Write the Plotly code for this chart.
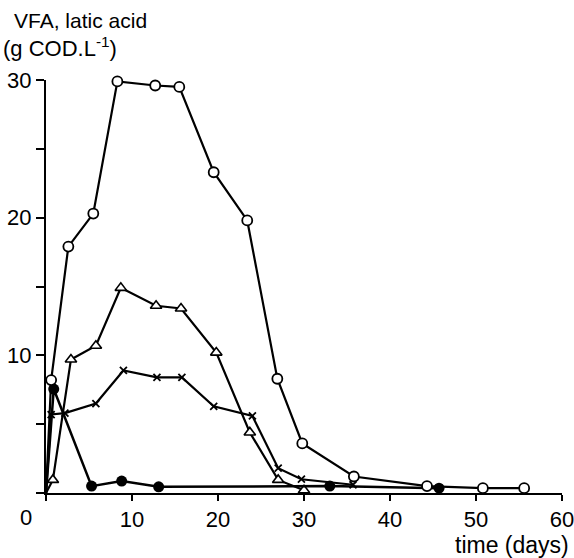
import plotly.graph_objects as go

# Time (days) and concentration (g COD/L) for each measured acid series
days_open = [0, 0.6, 2.6, 5.5, 8.3, 12.7, 15.5, 19.5, 23.4, 26.9, 29.8, 35.8, 44.3, 50.8, 55.6]
vals_open = [0, 8.2, 17.9, 20.3, 29.9, 29.6, 29.5, 23.3, 19.8, 8.3, 3.6, 1.2, 0.5, 0.35, 0.35]

days_tri = [0, 0.8, 2.9, 5.8, 8.7, 12.8, 15.7, 19.8, 23.7, 27.0, 30.0]
vals_tri = [0, 0.95, 9.7, 10.7, 14.9, 13.6, 13.4, 10.2, 4.4, 0.95, 0.2]

days_x = [0, 0.6, 2.2, 5.8, 9.0, 12.9, 15.8, 19.5, 24.0, 27.0, 29.7, 35.7]
vals_x = [0, 5.7, 5.8, 6.5, 8.9, 8.4, 8.4, 6.3, 5.6, 1.8, 1.0, 0.6]

days_dot = [0, 0.9, 5.3, 8.8, 13.1, 33.0, 45.7]
vals_dot = [0, 7.55, 0.5, 0.87, 0.45, 0.5, 0.35]

x_ticks = [0, 10, 20, 30, 40, 50, 60]
y_ticks = [0, 5, 10, 15, 20, 25, 30]
y_ticktext = ["", "", "10", "", "20", "", "30"]

FONT = "Liberation Sans, Arial, sans-serif"
INK = "black"


def sizes(n, s):
    # the shared starting point at the origin carries no symbol
    return [0] + [s] * (n - 1)


fig = go.Figure()

fig.add_trace(go.Scatter(
    x=days_tri, y=vals_tri, mode="lines+markers",
    line=dict(color=INK, width=2.2),
    marker=dict(symbol="triangle-up", size=sizes(len(days_tri), 10),
                color="white", opacity=1, line=dict(width=1.6, color=INK)),
    cliponaxis=False, showlegend=False))

fig.add_trace(go.Scatter(
    x=days_x, y=vals_x, mode="lines+markers",
    line=dict(color=INK, width=2.2),
    marker=dict(symbol="x-thin", size=sizes(len(days_x), 7), opacity=1,
                color=INK, line=dict(width=1.8, color=INK)),
    cliponaxis=False, showlegend=False))

fig.add_trace(go.Scatter(
    x=days_dot, y=vals_dot, mode="lines+markers",
    line=dict(color=INK, width=2.5),
    marker=dict(symbol="circle", size=sizes(len(days_dot), 11), color=INK,
                opacity=1, line=dict(width=0)),
    cliponaxis=False, showlegend=False))

fig.add_trace(go.Scatter(
    x=days_open, y=vals_open, mode="lines+markers",
    line=dict(color=INK, width=2.2),
    marker=dict(symbol="circle", size=sizes(len(days_open), 10), color="white",
                opacity=1, line=dict(width=1.8, color=INK)),
    cliponaxis=False, showlegend=False))

# the origin label sits a little left of the corner, so it is drawn separately
x_ticktext = [""] + [str(v) for v in x_ticks[1:]]

fig.update_xaxes(
    range=[0, 60], tickvals=x_ticks, ticktext=x_ticktext, automargin=False,
    showgrid=False, zeroline=False, showline=True, linecolor=INK, linewidth=2,
    ticks="outside", ticklen=6, tickwidth=1.5, tickcolor=INK,
    ticklabeloverflow="allow",
    tickfont=dict(family=FONT, size=22, color=INK))

fig.update_yaxes(
    range=[0, 30], tickvals=y_ticks, ticktext=y_ticktext, automargin=False,
    showgrid=False, zeroline=False, showline=True, linecolor=INK, linewidth=2,
    ticks="outside", ticklen=8, tickwidth=1.5, tickcolor=INK,
    ticklabeloverflow="allow",
    tickfont=dict(family=FONT, size=22, color=INK))

fig.add_annotation(text=str(x_ticks[0]), x=x_ticks[0], y=0, xref="x", yref="y",
                   xshift=-20, yshift=-24, yanchor="middle", xanchor="center",
                   showarrow=False, font=dict(family=FONT, size=22, color=INK))

fig.add_annotation(text="VFA, latic acid", xref="paper", yref="paper",
                   x=-0.066, y=1.145, xanchor="left", yanchor="middle",
                   showarrow=False, font=dict(family=FONT, size=21, color=INK))
fig.add_annotation(text="(g COD.L<sup>-1</sup>)", xref="paper", yref="paper",
                   x=-0.088, y=1.08, xanchor="left", yanchor="middle",
                   showarrow=False, font=dict(family=FONT, size=22, color=INK))
fig.add_annotation(text="time (days)", xref="paper", yref="paper",
                   x=1.018, y=-0.127, xanchor="right", yanchor="middle",
                   showarrow=False, font=dict(family=FONT, size=23, color=INK))

fig.update_layout(
    width=574, height=558,
    margin=dict(l=46, r=12, t=80, b=65, autoexpand=False),
    paper_bgcolor="white", plot_bgcolor="white",
)

fig.write_html("out.html")
